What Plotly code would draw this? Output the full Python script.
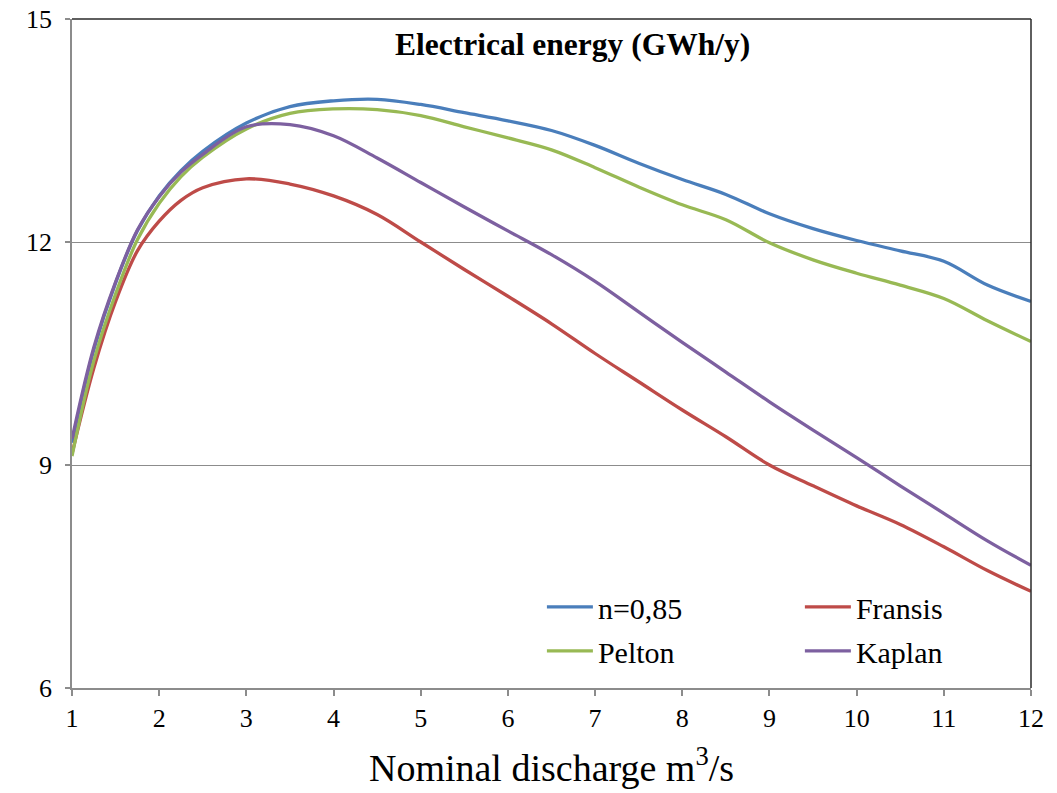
import plotly.graph_objects as go

discharge = [1, 1.25, 1.5, 1.75, 2, 2.25, 2.5, 3, 3.5, 4, 4.5, 5, 5.5, 6, 6.5, 7, 7.5, 8, 8.5, 9, 9.5, 10, 10.5, 11, 11.5, 12]

n085 = [9.3, 10.55, 11.45, 12.15, 12.62, 12.96, 13.22, 13.6, 13.82, 13.9, 13.92, 13.85, 13.74, 13.63, 13.5, 13.3, 13.06, 12.84, 12.64, 12.38, 12.18, 12.02, 11.88, 11.74, 11.42, 11.2]
fransis = [9.15, 10.3, 11.2, 11.88, 12.28, 12.56, 12.73, 12.85, 12.78, 12.62, 12.37, 12.0, 11.63, 11.27, 10.9, 10.5, 10.12, 9.74, 9.38, 9.0, 8.72, 8.45, 8.2, 7.9, 7.58, 7.3]
pelton = [9.12, 10.4, 11.3, 12.03, 12.52, 12.88, 13.14, 13.52, 13.73, 13.79, 13.78, 13.7, 13.55, 13.4, 13.24, 13.0, 12.74, 12.5, 12.3, 11.99, 11.76, 11.58, 11.42, 11.24, 10.94, 10.66]
kaplan = [9.35, 10.58, 11.46, 12.16, 12.61, 12.94, 13.18, 13.55, 13.58, 13.43, 13.13, 12.8, 12.47, 12.15, 11.83, 11.47, 11.06, 10.65, 10.25, 9.85, 9.47, 9.1, 8.72, 8.35, 7.98, 7.65]

series = [
    ("n=0,85", n085, "#4A7EBB", "legend"),
    ("Fransis", fransis, "#BE4B48", "legend2"),
    ("Pelton", pelton, "#98B954", "legend"),
    ("Kaplan", kaplan, "#7D60A0", "legend2"),
]

x_ticks = list(range(1, 13))
y_ticks = [6, 9, 12, 15]

FONT = "Times New Roman, Liberation Serif, DejaVu Serif, serif"

fig = go.Figure()
for name, vals, color, leg in series:
    fig.add_trace(go.Scatter(
        x=discharge, y=vals, name=name, mode="lines",
        line=dict(color=color, width=3.3, shape="spline", smoothing=1.0),
        legend=leg, legendgroup=name,
    ))

legend_common = dict(
    yanchor="top", xanchor="left",
    font=dict(family=FONT, size=30, color="black"),
    bgcolor="rgba(0,0,0,0)", tracegroupgap=2, itemwidth=46,
)

fig.update_layout(
    width=1057, height=793,
    margin=dict(l=72, r=26, t=19, b=105, autoexpand=False),
    paper_bgcolor="white", plot_bgcolor="white",
    font=dict(family=FONT, color="black", size=26),
    showlegend=True,
    legend=dict(x=0.49, y=0.16, **legend_common),
    legend2=dict(x=0.759, y=0.16, **legend_common),
    xaxis=dict(
        range=[1, 12], tickvals=x_ticks, ticktext=[str(v) for v in x_ticks],
        showgrid=False, zeroline=False, automargin=False,
        showline=True, linecolor="#8c8c8c", linewidth=1.5,
        ticks="outside", ticklen=6, tickcolor="#8c8c8c", tickwidth=1.5,
        tickfont=dict(family=FONT, size=26, color="black"),
        title=dict(text="Nominal discharge m<sup>3</sup>/s",
                   font=dict(family=FONT, size=38, color="black"), standoff=22),
    ),
    yaxis=dict(
        range=[6, 15], tickvals=y_ticks, ticktext=[str(v) for v in y_ticks],
        showgrid=True, gridcolor="#8c8c8c", gridwidth=1.2, zeroline=False,
        automargin=False,
        showline=True, linecolor="#8c8c8c", linewidth=1.5,
        ticks="outside", ticklen=5, tickcolor="#8c8c8c", tickwidth=1.5,
        tickfont=dict(family=FONT, size=26, color="black"),
        ticklabelstandoff=8,
    ),
    annotations=[dict(
        text="<b>Electrical energy (GWh/y)</b>", x=0.5215, y=0.962,
        xref="paper", yref="paper", showarrow=False,
        xanchor="center", yanchor="middle",
        font=dict(family=FONT, size=31.5, color="black"),
    )],
    shapes=[
        dict(type="line", xref="paper", yref="paper", x0=0, x1=1, y0=1, y1=1,
             line=dict(color="#2a2a2a", width=1.5)),
        dict(type="line", xref="paper", yref="paper", x0=1, x1=1, y0=0, y1=1,
             line=dict(color="#2a2a2a", width=1.5)),
    ],
)

fig.write_html("out.html")
